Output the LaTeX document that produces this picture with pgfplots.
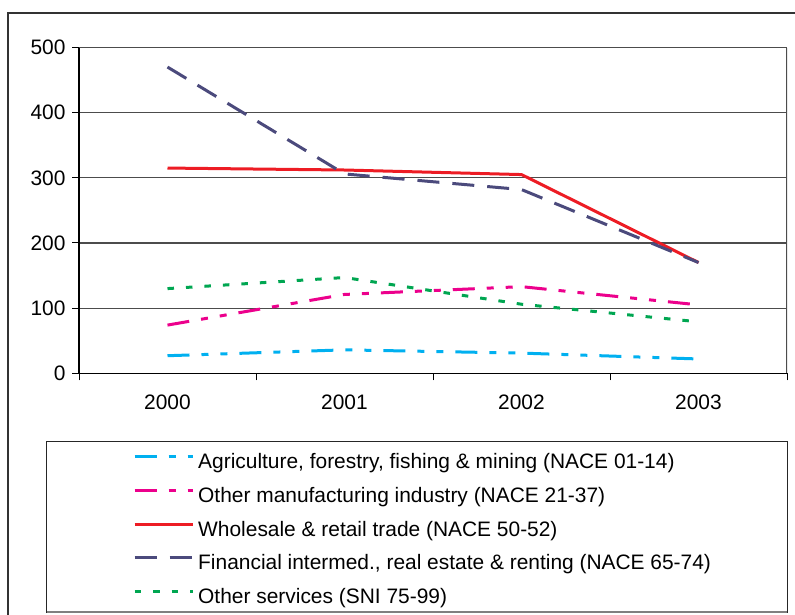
\documentclass[border=0pt]{standalone}
\usepackage{fontspec}
\setmainfont{Liberation Sans}
\usepackage{pgfplots}
\usepackage{pgfplotstable}
\pgfplotsset{compat=1.18}

\definecolor{agri}{HTML}{00B0F0}
\definecolor{manu}{HTML}{EC008C}
\definecolor{whole}{HTML}{ED1C24}
\definecolor{fin}{HTML}{4B4A7C}
\definecolor{serv}{HTML}{00A651}

% values
\pgfplotstableread{
x agri manu whole fin serv
0 27  74  315 470 130
1 36  121 312 306 147
2 31  133 305 282 106
3 22  105 170 170 79
}\datatable

\begin{document}
\begin{tikzpicture}
\useasboundingbox (0bp,0bp) rectangle (795bp,-615bp);
% outer frame (cut by the page) and legend box
\draw[line width=1.5bp, black!80] (8bp,-615bp) -- (8bp,-13bp) -- (795bp,-13bp);
\draw[line width=1bp, black!85] (46.7bp,-441.7bp) rectangle (787bp,-612bp);
\draw[line width=2bp, gray] (46.7bp,-612bp) -- (787bp,-612bp);
\begin{axis}[
	at={(79bp,-373.3bp)},
	anchor=south west,
	width=708bp,
	height=325.8bp,
	scale only axis,
	xmin=-0.5, xmax=3.5,
	ymin=0, ymax=500,
	axis x line*=bottom,
	axis y line*=left,
	axis line style={line width=1.2bp, black},
	xtick={-0.5,0.5,1.5,2.5,3.5},
	xticklabels={},
	extra x ticks={0,1,2,3},
	extra x tick labels={2000,2001,2002,2003},
	extra x tick style={major tick length=0pt},
	ytick={0,100,200,300,400,500},
	tick align=outside,
	major tick length=7bp,
	tick style={line width=1bp, black},
	ymajorgrids,
	grid style={line width=1.2bp, gray!60!black},
	ticklabel style={font=\fontsize{21}{25}\selectfont},
	yticklabel style={xshift=-3bp},
	xticklabel style={yshift=-18bp},
	/pgf/number format/assume math mode=true,
	legend cell align=left,
	legend style={
		at={(0.0763,-0.246)}, anchor=north west,
		draw=none, fill=none, inner sep=0pt,
		row sep=13.7bp, column sep=4bp,
		font=\fontsize{21}{25}\selectfont,
		nodes={inner sep=0pt, text height=15bp, text depth=5bp},
	},
	legend image code/.code={\draw[#1] (0bp,7bp) -- (58bp,7bp);},
	every axis plot/.append style={line width=3bp},
	]
	\addplot [agri, dash pattern=on 22bp off 12bp on 7bp off 12bp on 7bp off 12bp] table [x=x, y=agri] {\datatable};
	\addlegendentry{Agriculture, forestry, fishing \& mining (NACE 01-14)}
	\addplot [manu, dash pattern=on 22bp off 12bp on 7bp off 12bp on 7bp off 12bp] table [x=x, y=manu] {\datatable};
	\addlegendentry{Other manufacturing industry (NACE 21-37)}
	\addplot [whole] table [x=x, y=whole] {\datatable};
	\addlegendentry{Wholesale \& retail trade (NACE 50-52)}
	\addplot [fin, dash pattern=on 22bp off 13bp] table [x=x, y=fin] {\datatable};
	\addlegendentry{Financial intermed., real estate \& renting (NACE 65-74)}
	\addplot [serv, dash pattern=on 6.5bp off 12bp] table [x=x, y=serv] {\datatable};
	\addlegendentry{Other services (SNI 75-99)}
	% grey right border of the plot area
	\draw [line width=1.2bp, gray!60!black] (rel axis cs:1,0) -- (rel axis cs:1,1);
\end{axis}
\end{tikzpicture}
\end{document}
